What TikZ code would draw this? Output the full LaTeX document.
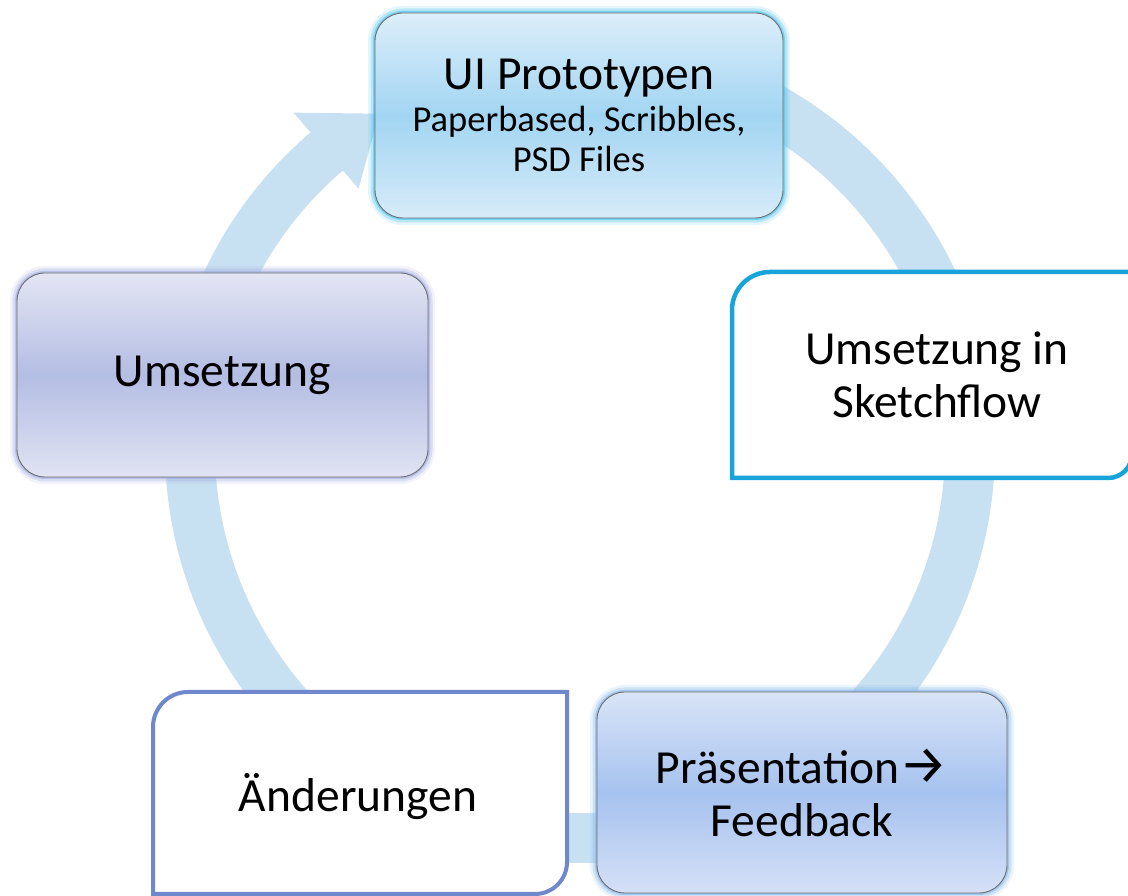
\documentclass[tikz,border=0pt]{standalone}
\usepackage{fontspec}
\setmainfont{Carlito}
\newfontfamily\symfont{Fira Sans}
\usetikzlibrary{calc}
\definecolor{ringc}{HTML}{C8E1F2}
\definecolor{edgec}{HTML}{6E6E6E}
\definecolor{cyanedge}{HTML}{18A4DA}
\definecolor{violetedge}{HTML}{6E87CD}
\definecolor{glowcyan}{HTML}{4EC3EE}
\definecolor{glowlav}{HTML}{A3AEE0}
\definecolor{glowblue}{HTML}{86B6EA}
\tikzset{
  glow/.style={preaction={draw=#1, draw opacity=.15, line width=14pt},
               preaction={draw=#1, draw opacity=.3, line width=9pt},
               preaction={draw=#1, draw opacity=.6, line width=4pt}},
  gbox/.style={rounded corners=28pt, draw=edgec, line width=0.9pt, inner sep=0pt,
               align=center, font=\fontsize{47.5}{53}\selectfont},
  plain/.style={inner sep=0pt, align=center, font=\fontsize{47.5}{53}\selectfont},
  ringfill/.style={fill=ringc},
}
\begin{document}
\begin{tikzpicture}[x=1pt,y=1pt]
\useasboundingbox (0,0) rectangle (1128,896);
\fill[white] (0,0) rectangle (1128,896);
\coordinate (C) at (580,448);
% circular arrow ring
\fill[ringfill] ($(C)+(130:415)$) arc[start angle=130, end angle=440, radius=415]
  -- ($(C)+(440:365)$) arc[start angle=440, end angle=130, radius=365] -- cycle;
\fill[ringfill] ($(C)+(130.5:341)$) -- ($(C)+(130.5:441)$) -- ($(C)+(121:390)$) -- cycle;

% top box
\node[gbox, glow=glowcyan, minimum width=408pt, minimum height=205pt,
      top color={rgb,255:red,220;green,238;blue,250}, bottom color={rgb,255:red,215;green,235;blue,249},
      middle color={rgb,255:red,162;green,213;blue,242}] (proto) at (579,780.5)
  {\rule{0pt}{30pt}UI Prototypen\\[-11pt]{\fontsize{36.5}{43}\selectfont Paperbased, Scribbles,}\\[-13pt]{\fontsize{36.5}{43}\selectfont PSD Files}};

% left box
\node[gbox, glow=glowlav, minimum width=411pt, minimum height=204pt,
      top color={rgb,255:red,227;green,229;blue,244}, bottom color={rgb,255:red,224;green,227;blue,243},
      middle color={rgb,255:red,180;green,189;blue,227}] (ums) at (222.5,521) {Umsetzung};

% bottom right box
\node[gbox, glow=glowblue, minimum width=410pt, minimum height=201pt,
      top color={rgb,255:red,217;green,228;blue,247}, bottom color={rgb,255:red,213;green,224;blue,246},
      middle color={rgb,255:red,166;green,194;blue,239}] (praes) at (802,103.5)
  {Präsentation{\symfont\fontsize{54}{54}\selectfont →}\\Feedback};

% right box (round diagonal corners)
\draw[draw=cyanedge, line width=4.5pt, fill=white]
  (732,418) -- (732,586) .. controls (732,607) and (749,624) .. (770,624)
  -- (1132,624) -- (1132,442) .. controls (1132,428.7) and (1121.3,418) .. (1108,418) -- cycle;
\node[plain] (sketch) at (937,521) {Umsetzung in\\Sketchflow};

% bottom left box (round diagonal corners)
\draw[draw=violetedge, line width=4pt, fill=white]
  (153,2) -- (153,169) .. controls (153,188.3) and (168.7,204) .. (188,204)
  -- (567,204) -- (567,34) .. controls (567,16.3) and (552.7,2) .. (535,2) -- cycle;
\node[plain] (aend) at (358,99) {Änderungen};
\end{tikzpicture}
\end{document}
